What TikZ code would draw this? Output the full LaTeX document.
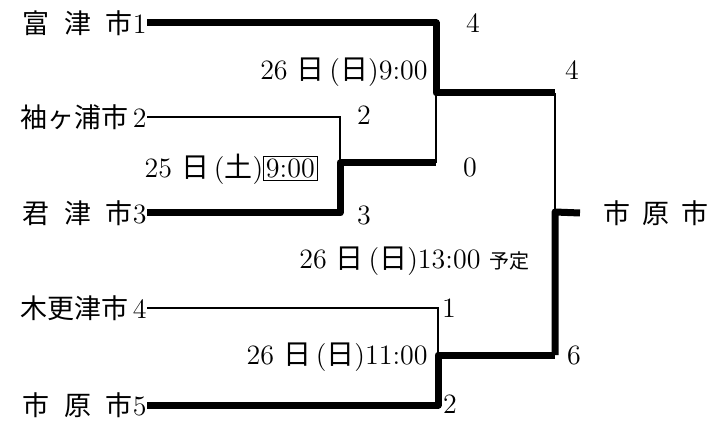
\documentclass[tikz,border=0pt]{standalone}
\usepackage{fontspec}
\newfontfamily\jp{Noto Sans CJK JP}
\usetikzlibrary{positioning}

\begin{document}
\begin{tikzpicture}[x=0.5pt, y=-0.5pt,
  team/.style={anchor=east, inner sep=0pt, font=\fontsize{13.5}{15}\selectfont},
  score/.style={inner sep=0pt, font=\fontsize{14}{16}\selectfont},
  date/.style={anchor=east, inner sep=0pt, font=\fontsize{14}{16}\selectfont},
  win/.style={line width=3.5pt, line join=round},
  lose/.style={line width=1.1pt}
]
  \useasboundingbox (0,0) rectangle (712,422);

  % teams
  \node[team] (t1) at (147,23)  {{\jp 富\hspace{0.55em}津\hspace{0.55em}市}{\fontsize{14}{16}\selectfont 1}};
  \node[team] (t2) at (147,117) {{\jp 袖ヶ浦市}\,{\fontsize{14}{16}\selectfont 2}};
  \node[team] (t3) at (147,213) {{\jp 君\hspace{0.55em}津\hspace{0.55em}市}{\fontsize{14}{16}\selectfont 3}};
  \node[team] (t4) at (147,308) {{\jp 木更津市}\,{\fontsize{14}{16}\selectfont 4}};
  \node[team] (t5) at (147,405) {{\jp 市\hspace{0.55em}原\hspace{0.55em}市}{\fontsize{14}{16}\selectfont 5}};
  \node[team, anchor=west] (champ) at (603,213) {\jp 市\hspace{0.45em}原\hspace{0.45em}市};

  % corners of the bracket
  \coordinate (s1)  at (436,23);
  \coordinate (s2)  at (340,117);
  \coordinate (s3)  at (340,213);
  \coordinate (s4)  at (438,308);
  \coordinate (s5)  at (438,405);
  \coordinate (j23) at (340,163);
  \coordinate (e23) at (436,163);
  \coordinate (j1)  at (436,93);
  \coordinate (j45) at (438,355);
  \coordinate (f1)  at (555,93);
  \coordinate (f2)  at (555,355);
  \coordinate (jf)  at (555,212);

  % first round
  \draw[lose] (t2.east) -- (s2) -- (j23);
  \draw[win]  (t3.east) -- (s3) -- (j23) -- (e23);
  \draw[lose] (t4.east) -- (s4) -- (j45);
  \draw[win]  (t5.east) -- (s5) -- (j45) -- (f2);
  % second round
  \draw[win]  (t1.east) -- (s1) -- (j1) -- (f1);
  \draw[lose] (j1) -- (e23);
  % final
  \draw[lose] (f1) -- (jf);
  \draw[win]  (f2) -- (jf) -- ([xshift=-11.5pt]champ.west);

  % scores
  \node[score] (r1) at (473,23)  {4};
  \node[score] (r2) at (364,115) {2};
  \node[score] (r3) at (364,215) {3};
  \node[score] (r4) at (470,167) {0};
  \node[score] (r5) at (449,308) {1};
  \node[score] (r6) at (450,404) {2};
  \node[score] (r7) at (572,70)  {4};
  \node[score] (r8) at (574,355) {6};

  % dates
  \node[date] (d1) at (428,72)  {26~{\jp 日}\,({\jp 日})9:00};
  \node[date] (d2) at (318,169) {25~{\jp 日}\,({\jp 土})\setlength{\fboxsep}{1pt}\fbox{9:00}};
  \node[date] (d3) at (530,261) {26~{\jp 日}\,({\jp 日})13:00~{\fontsize{10}{11}\selectfont\jp 予定}};
  \node[date] (d4) at (428,357) {26~{\jp 日}\,({\jp 日})11:00};
\end{tikzpicture}
\end{document}
